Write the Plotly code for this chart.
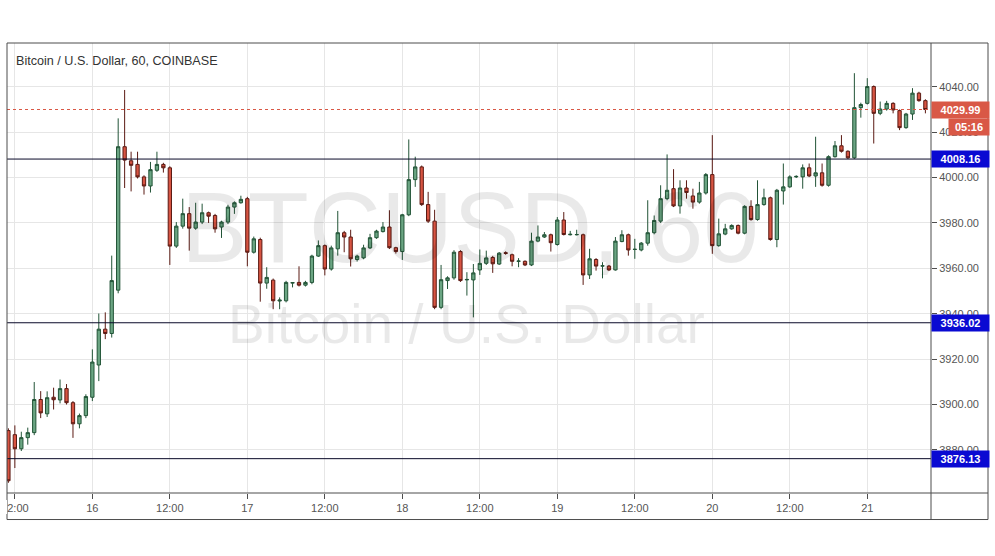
import plotly.graph_objects as go
import pandas as pd

# ---------------- data (hourly candles, BTC/USD, Coinbase) ----------------
first_candle = "2019-03-15 11:00"

opens = [3888.5, 3886.7, 3880.5, 3885.4, 3887.6, 3902.2, 3895.9, 3903.2, 3902.0, 3907.0,
         3900.8, 3891.5, 3895.1, 3903.2, 3917.4, 3933.2, 3931.3, 3950.4, 4013.6, 4007.4,
         4005.8, 4000.3, 3996.3, 4003.2, 4005.8, 4004.3, 3969.8, 3978.6, 3984.1, 3977.7,
         3980.4, 3984.5, 3983.3, 3978.2, 3980.4, 3987.0, 3988.9, 3990.7, 3967.1, 3972.7,
         3953.5, 3954.8, 3945.6, 3945.7, 3953.5, 3953.8, 3952.6, 3953.8, 3965.4, 3970.0,
         3959.7, 3968.6, 3975.7, 3973.8, 3963.9, 3964.6, 3969.0, 3973.5, 3976.2, 3978.2,
         3969.1, 3967.4, 3983.6, 3999.1, 4004.7, 3988.1, 3980.8, 3942.8, 3954.6, 3955.8,
         3967.4, 3954.9, 3954.9, 3959.3, 3962.2, 3964.8, 3961.9, 3966.9, 3966.0, 3963.1,
         3963.1, 3961.5, 3972.0, 3973.8, 3974.8, 3970.5, 3981.3, 3974.8, 3974.8, 3974.8,
         3957.1, 3963.9, 3961.0, 3961.0, 3959.3, 3971.8, 3974.8, 3968.3, 3968.1, 3971.1,
         3975.7, 3980.8, 3990.7, 3995.1, 3987.5, 3995.4, 3991.9, 3989.2, 3993.2, 4001.3,
         3970.0, 3975.1, 3977.4, 3978.9, 3975.5, 3987.3, 3981.5, 3988.1, 3991.1, 3972.7,
         3994.1, 3995.9, 4000.3, 4000.3, 4004.3, 4000.7, 4002.1, 3996.6, 4009.2, 4014.0,
         4011.6, 4008.7, 4030.8, 4032.7, 4040.1, 4028.3, 4030.2, 4032.7, 4029.5, 4022.0,
         4028.0, 4037.2, 4033.9]

highs = [3889.5, 3890.8, 3888.0, 3889.8, 3909.9, 3905.9, 3905.8, 3907.4, 3911.0, 3909.0,
         3901.5, 3896.0, 3904.5, 3924.3, 3940.1, 3940.6, 3965.6, 4026.1, 4038.6, 4011.4,
         4011.4, 4001.0, 4006.9, 4011.4, 4006.5, 4005.0, 3980.4, 3990.7, 3987.0, 3988.9,
         3988.5, 3985.0, 3984.0, 3981.0, 3988.0, 3989.5, 3992.0, 3991.5, 3974.0, 3973.5,
         3960.5, 3955.5, 3947.2, 3954.5, 3953.8, 3960.9, 3954.5, 3966.0, 3972.3, 3970.5,
         3970.0, 3985.3, 3976.5, 3977.0, 3966.0, 3970.4, 3975.2, 3977.0, 3980.4, 3985.6,
         3969.5, 3984.0, 4016.8, 4009.2, 4005.3, 3993.7, 3985.8, 3961.5, 3956.5, 3968.0,
         3968.0, 3958.3, 3961.9, 3968.3, 3967.8, 3965.5, 3967.2, 3967.5, 3966.5, 3964.5,
         3963.5, 3975.7, 3978.9, 3976.0, 3975.3, 3982.6, 3984.8, 3976.5, 3977.0, 3975.3,
         3968.6, 3964.5, 3962.7, 3961.5, 3973.8, 3976.8, 3975.3, 3973.0, 3971.6, 3990.0,
         3983.3, 3996.6, 4010.2, 4003.7, 3998.8, 3998.8, 3995.1, 3998.1, 4002.0, 4018.7,
         3981.9, 3979.6, 3979.4, 3979.3, 3987.8, 3990.0, 3998.8, 3995.1, 3991.6, 3995.0,
         4006.2, 4001.0, 4001.0, 4005.8, 4006.2, 4018.0, 4006.2, 4009.8, 4016.1, 4018.7,
         4012.0, 4046.0, 4033.0, 4043.8, 4040.6, 4033.5, 4033.8, 4033.2, 4030.0, 4028.5,
         4039.4, 4037.8, 4034.5]

lows = [3865.5, 3872.0, 3879.5, 3882.3, 3886.5, 3894.0, 3894.5, 3897.8, 3900.5, 3900.0,
        3885.3, 3889.5, 3894.0, 3901.5, 3910.3, 3928.8, 3929.5, 3949.0, 3995.4, 3993.9,
        3999.6, 3992.5, 3993.4, 4002.5, 4002.2, 3961.5, 3969.0, 3977.5, 3967.8, 3977.0,
        3979.5, 3980.0, 3975.7, 3973.4, 3979.5, 3984.0, 3988.5, 3960.9, 3966.5, 3945.3,
        3951.0, 3942.0, 3942.0, 3945.0, 3951.6, 3952.0, 3952.0, 3953.0, 3965.0, 3956.9,
        3959.0, 3965.6, 3967.1, 3960.8, 3963.0, 3964.0, 3968.5, 3973.0, 3975.8, 3968.5,
        3966.5, 3963.7, 3983.0, 3995.9, 3987.5, 3980.0, 3942.0, 3942.0, 3950.9, 3955.0,
        3954.0, 3948.0, 3938.4, 3957.1, 3961.5, 3958.0, 3961.5, 3966.0, 3960.9, 3960.5,
        3961.0, 3961.0, 3971.5, 3973.4, 3967.4, 3970.0, 3974.5, 3974.5, 3974.5, 3952.7,
        3955.3, 3959.0, 3955.6, 3958.8, 3959.0, 3971.5, 3965.6, 3964.2, 3967.5, 3970.0,
        3975.0, 3980.0, 3990.0, 3987.0, 3984.1, 3990.7, 3986.3, 3988.5, 3992.5, 3966.4,
        3969.5, 3974.6, 3977.0, 3975.0, 3975.0, 3981.0, 3981.0, 3987.6, 3972.2, 3969.3,
        3988.1, 3995.5, 3999.8, 3995.1, 4000.2, 3995.9, 3996.0, 3996.0, 4008.8, 4011.0,
        4008.2, 4008.2, 4026.4, 4032.2, 4015.0, 4027.5, 4029.5, 4028.3, 4020.9, 4021.5,
        4025.4, 4033.4, 4028.3]

closes = [3866.4, 3880.5, 3885.4, 3887.6, 3902.2, 3896.3, 3903.0, 3902.1, 3907.0, 3900.8,
          3891.5, 3895.1, 3903.5, 3918.7, 3933.2, 3931.3, 3954.6, 4013.6, 4007.7, 4005.4,
          4000.3, 3996.3, 4003.5, 4005.8, 4004.3, 3969.8, 3978.6, 3984.1, 3977.7, 3980.4,
          3984.5, 3983.0, 3977.4, 3980.4, 3987.0, 3988.9, 3990.4, 3967.1, 3973.0, 3953.5,
          3956.0, 3945.7, 3946.0, 3953.8, 3953.7, 3952.6, 3953.8, 3965.4, 3970.0, 3959.7,
          3969.0, 3975.7, 3973.8, 3964.2, 3965.4, 3969.0, 3973.5, 3976.4, 3978.2, 3969.1,
          3967.4, 3983.6, 3999.1, 4004.7, 3988.1, 3980.8, 3942.8, 3955.0, 3955.8, 3967.1,
          3954.6, 3955.1, 3958.0, 3962.2, 3964.6, 3962.0, 3966.7, 3966.6, 3963.1, 3963.2,
          3961.5, 3972.0, 3973.8, 3974.8, 3971.3, 3981.3, 3974.9, 3975.0, 3974.9, 3957.1,
          3964.2, 3961.0, 3961.1, 3959.3, 3972.0, 3974.8, 3968.1, 3968.4, 3971.1, 3975.7,
          3981.1, 3990.7, 3994.4, 3987.5, 3995.4, 3993.4, 3989.2, 3993.2, 4001.3, 3970.0,
          3975.2, 3977.4, 3978.9, 3975.5, 3987.3, 3981.5, 3988.1, 3991.1, 3972.7, 3994.4,
          3995.9, 4000.3, 4000.5, 4004.3, 4000.7, 4002.1, 3996.6, 4009.2, 4014.0, 4011.6,
          4008.7, 4030.8, 4032.2, 4040.1, 4028.3, 4030.2, 4032.7, 4029.8, 4022.0, 4028.0,
          4037.2, 4033.9, 4029.99]

times = pd.date_range(first_candle, periods=len(opens), freq="h")

tick_times = ["2019-03-15 12:00", "2019-03-16 00:00", "2019-03-16 12:00", "2019-03-17 00:00",
              "2019-03-17 12:00", "2019-03-18 00:00", "2019-03-18 12:00", "2019-03-19 00:00",
              "2019-03-19 12:00", "2019-03-20 00:00", "2019-03-20 12:00", "2019-03-21 00:00"]
tick_labels = ["12:00", "16", "12:00", "17", "12:00", "18", "12:00", "19", "12:00", "20",
               "12:00", "21"]

levels = [4008.16, 3936.02, 3876.13]
last_price = 4029.99
countdown = "05:16"
title_text = "Bitcoin / U.S. Dollar, 60, COINBASE"
watermark_big = "BTCUSD, 60"
watermark_small = "Bitcoin / U.S. Dollar"

x_range = ["2019-03-15 10:47", "2019-03-21 09:52"]
y_range = [3861.0, 4059.3]

# ---------------- styling ----------------
UP_FILL, UP_LINE = "#6ba583", "#225437"
DN_FILL, DN_LINE = "#d75442", "#5b1a13"
FRAME = "#4d4d4d"
GRID = "#e6e6e6"
LEVEL_LINE = "#0a0a28"
LEVEL_BOX = "#0a0ad2"
PRICE_BOX = "#d95846"
FONT = "Liberation Sans, Arial, sans-serif"

fig = go.Figure()
fig.add_trace(go.Candlestick(
    x=times, open=opens, high=highs, low=lows, close=closes,
    increasing=dict(fillcolor=UP_FILL, line=dict(color=UP_LINE, width=1)),
    decreasing=dict(fillcolor=DN_FILL, line=dict(color=DN_LINE, width=1)),
    whiskerwidth=0, showlegend=False, hoverinfo="skip",
))

shapes = []
# horizontal support / resistance lines
for lv in levels:
    shapes.append(dict(type="line", xref="paper", x0=0, x1=1, yref="y", y0=lv, y1=lv,
                       line=dict(color=LEVEL_LINE, width=1), layer="above"))
# last price dotted line
shapes.append(dict(type="line", xref="paper", x0=0, x1=1, yref="y", y0=last_price, y1=last_price,
                   line=dict(color=PRICE_BOX, width=1, dash="dot"), layer="above"))

# frame geometry (paper coords)
right_edge = (988 - 7) / 924
bottom_edge = (492.5 - 519) / 449.5
shapes += [
    dict(type="rect", xref="paper", yref="paper", x0=0, x1=right_edge, y0=bottom_edge, y1=1,
         line=dict(color=FRAME, width=1), layer="above"),
    dict(type="line", xref="paper", yref="paper", x0=1, x1=1, y0=bottom_edge, y1=1,
         line=dict(color=FRAME, width=1), layer="above"),
    dict(type="line", xref="paper", yref="paper", x0=0, x1=right_edge, y0=0, y1=0,
         line=dict(color=FRAME, width=1), layer="above"),
]

annotations = [
    # watermarks
    dict(text=watermark_big, xref="paper", yref="paper", x=0.501, y=0.592,
         xanchor="center", yanchor="middle", showarrow=False,
         font=dict(family=FONT, size=100, color="rgba(0,0,0,0.085)")),
    dict(text=watermark_small, xref="paper", yref="paper", x=0.497, y=0.375,
         xanchor="center", yanchor="middle", showarrow=False,
         font=dict(family=FONT, size=55, color="rgba(0,0,0,0.085)")),
    # title
    dict(text=title_text, xref="paper", yref="paper", x=(13.5 - 7) / 924, y=(492.5 - 60.5) / 449.5,
         xanchor="left", yanchor="middle", showarrow=False,
         font=dict(family=FONT, size=12.6, color="#333333")),
    # last price label + countdown
    dict(text="<b>%.2f</b>" % last_price, xref="paper", yref="y", x=1, y=last_price,
         xanchor="left", yanchor="middle", showarrow=False, bgcolor=PRICE_BOX,
         width=55, height=14, borderpad=1, align="center",
         font=dict(family=FONT, size=11, color="white")),
    dict(text="<b>%s</b>" % countdown, xref="paper", yref="y", x=1, y=last_price, xshift=17,
         yshift=-17.5, xanchor="left", yanchor="middle", showarrow=False, bgcolor=PRICE_BOX,
         width=38, height=14, borderpad=1, align="center",
         font=dict(family=FONT, size=11, color="white")),
    # hide the part of the first time label that falls outside the chart frame
    dict(text=" ", xref="paper", yref="paper", x=0, xshift=-0.5, y=(492.5 - 506) / 449.5,
         xanchor="right", yanchor="middle", showarrow=False, bgcolor="white",
         width=7, height=14, borderpad=0, borderwidth=0),
]
for lv in levels:
    annotations.append(dict(text="<b>%.2f</b>" % lv, xref="paper", yref="y", x=1, y=lv,
                            xanchor="left", yanchor="middle", showarrow=False,
                            bgcolor=LEVEL_BOX, width=55, height=14, borderpad=1, align="center",
                            font=dict(family=FONT, size=11, color="white")))

fig.update_layout(
    width=995, height=556,
    margin=dict(l=7, r=64, t=43, b=63, pad=0, autoexpand=False),
    paper_bgcolor="white", plot_bgcolor="white",
    font=dict(family=FONT, size=11, color="#555555"),
    boxgap=0.27,
    shapes=shapes, annotations=annotations,
    showlegend=False,
    xaxis=dict(
        type="date", range=x_range, rangeslider=dict(visible=False), automargin=False,
        tickmode="array", tickvals=tick_times, ticktext=tick_labels,
        showgrid=True, gridcolor=GRID, gridwidth=1,
        ticks="outside", ticklen=5, tickcolor=FRAME, showline=False, zeroline=False,
        tickfont=dict(family=FONT, size=11, color="#555555"),
    ),
    yaxis=dict(
        side="right", range=y_range, dtick=20, tick0=0, tickformat=".2f", automargin=False,
        showgrid=True, gridcolor=GRID, gridwidth=1,
        ticks="outside", ticklen=5, tickcolor=FRAME, showline=False, zeroline=False,
        tickfont=dict(family=FONT, size=11, color="#555555"),
    ),
)

fig.write_html("out.html", config={"displayModeBar": False},
               post_script="document.body.style.margin='0';")
